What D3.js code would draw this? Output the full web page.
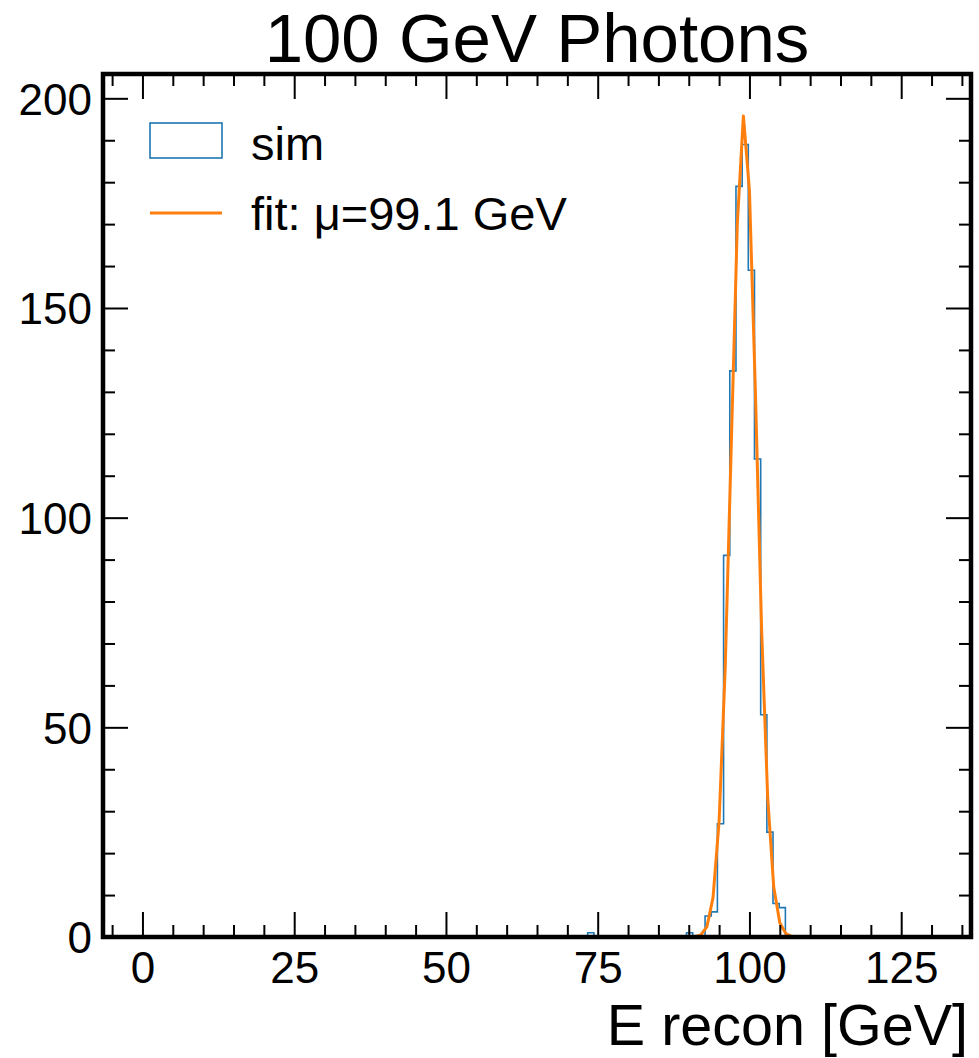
<!DOCTYPE html>
<html>
<head>
<meta charset="utf-8">
<script src="https://cdn.jsdelivr.net/npm/d3@7"></script>
<style>
  body { margin: 0; background: #fff; }
  svg { font-family: "Liberation Sans", Arial, Helvetica, sans-serif; }
  .tick text { font-size: 44px; fill: #000; }
  .tick line { stroke: #000; }
</style>
</head>
<body>
<svg width="979" height="1058"></svg>
<script>
// histogram bin edges (GeV) and counts
var binEdges = [73.35, 74.37, 75.39, 76.40, 77.42, 78.44, 79.46, 80.47, 81.49, 82.51,
                83.53, 84.55, 85.56, 86.58, 87.60, 88.62, 89.63, 90.65, 91.67, 92.69,
                93.71, 94.72, 95.74, 96.76, 97.78, 98.80, 99.81, 100.83, 101.85, 102.87,
                103.88, 104.90, 105.92];
var binCounts = [1, 0, 0, 0, 0, 0, 0, 0, 0, 0, 0, 0, 0, 0, 0, 0,
                 1, 0, 0, 5, 6, 27, 91, 135, 179, 189, 159, 114, 53, 25, 8, 7];

// gaussian fit curve
var fitX = [0, 90, 91, 92, 93, 94, 95, 96, 97, 98, 99, 100, 101, 102, 103, 104, 105, 106, 107, 108, 130];
var fitY = [0, 0, 0.1, 0.5, 2.5, 9.4, 27.6, 63.9, 117, 170, 195.8, 178, 129, 73.5, 33.4, 11.9, 3.4, 0.8, 0.1, 0, 0];

var xMajor = [0, 25, 50, 75, 100, 125];
var xMinor = [-5, 5, 10, 15, 20, 30, 35, 40, 45, 55, 60, 65, 70, 80, 85, 90, 95, 105, 110, 115, 120, 130, 135];
var yMajor = [0, 50, 100, 150, 200];
var yMinor = [10, 20, 30, 40, 60, 70, 80, 90, 110, 120, 130, 140, 160, 170, 180, 190];

var legendLabels = ["sim", "fit: \u03bc=99.1 GeV"];
var titleText = "100 GeV Photons";
var xLabel = "E recon [GeV]";

var svg = d3.select("svg");
var margin = {top: 74, right: 8, bottom: 121, left: 103};
var width = 979 - margin.left - margin.right;
var height = 1058 - margin.top - margin.bottom;

var x = d3.scaleLinear().domain([-6.5, 136.5]).range([0, width]);
var y = d3.scaleLinear().domain([0, 205.8]).range([height, 0]);

var g = svg.append("g")
    .attr("transform", "translate(" + margin.left + "," + margin.top + ")");

g.append("clipPath").attr("id", "plotclip")
  .append("rect").attr("width", width).attr("height", height);

// step outline of the histogram
var steps = [[binEdges[0], 0]];
binCounts.forEach(function(c, i) {
  steps.push([binEdges[i], c]);
  steps.push([binEdges[i + 1], c]);
});
steps.push([binEdges[binEdges.length - 1], 0]);

var line = d3.line()
    .x(function(d) { return x(d[0]); })
    .y(function(d) { return y(d[1]); });

g.append("path")
    .datum(steps)
    .attr("clip-path", "url(#plotclip)")
    .attr("fill", "none")
    .attr("stroke", "#1f77b4")
    .attr("stroke-width", 1.6)
    .attr("d", line);

// fit curve
g.append("path")
    .datum(fitX.map(function(v, i) { return [v, fitY[i]]; }))
    .attr("clip-path", "url(#plotclip)")
    .attr("fill", "none")
    .attr("stroke", "#ff7f0e")
    .attr("stroke-width", 3)
    .attr("stroke-linejoin", "round")
    .attr("d", line);

// axes, ticks pointing inward on all four sides
function tickAxis(axis, vals, len, labels) {
  return axis.tickValues(vals).tickSize(-len)
    .tickFormat(labels ? d3.format("d") : "");
}

g.append("g").attr("transform", "translate(0," + height + ")")
  .call(tickAxis(d3.axisBottom(x), xMajor, 25, true).tickPadding(15));
g.append("g").attr("transform", "translate(0," + height + ")")
  .call(tickAxis(d3.axisBottom(x), xMinor, 12, false));
g.append("g").call(tickAxis(d3.axisTop(x), xMajor, 25, false));
g.append("g").call(tickAxis(d3.axisTop(x), xMinor, 12, false));

g.append("g").call(tickAxis(d3.axisLeft(y), yMajor, 25, true).tickPadding(11));
g.append("g").call(tickAxis(d3.axisLeft(y), yMinor, 12, false));
g.append("g").attr("transform", "translate(" + width + ",0)")
  .call(tickAxis(d3.axisRight(y), yMajor, 25, false));
g.append("g").attr("transform", "translate(" + width + ",0)")
  .call(tickAxis(d3.axisRight(y), yMinor, 12, false));

g.selectAll(".domain").remove();
g.selectAll(".tick line").attr("stroke-width", 2);
g.selectAll(".tick text").attr("font-family", null);
g.selectAll(".tick text").filter(function() { return this.getAttribute("x") !== null && +this.getAttribute("x") < 0; })
  .attr("dy", "0.36em");

// frame
g.append("rect")
    .attr("width", width)
    .attr("height", height)
    .attr("fill", "none")
    .attr("stroke", "#000")
    .attr("stroke-width", 4.5);

// legend
var legend = g.append("g").attr("transform", "translate(47,0)");
legend.append("rect")
    .attr("x", 0).attr("y", 49)
    .attr("width", 72).attr("height", 35)
    .attr("fill", "none")
    .attr("stroke", "#1f77b4")
    .attr("stroke-width", 1.6);
legend.append("line")
    .attr("x1", 0).attr("x2", 72)
    .attr("y1", 139).attr("y2", 139)
    .attr("stroke", "#ff7f0e")
    .attr("stroke-width", 3);
legend.selectAll("text.leg")
    .data(legendLabels)
    .enter().append("text")
    .attr("class", "leg")
    .attr("x", 101)
    .attr("y", function(d, i) { return 69 + i * 70; })
    .attr("dy", "0.36em")
    .style("font-size", "47px")
    .text(function(d) { return d; });

// title
svg.append("text")
    .attr("x", margin.left + width / 2)
    .attr("y", 62)
    .attr("text-anchor", "middle")
    .style("font-size", "69px")
    .text(titleText);

// x label
svg.append("text")
    .attr("x", margin.left + width - 3)
    .attr("y", 1045)
    .attr("text-anchor", "end")
    .style("font-size", "57.5px")
    .text(xLabel);
</script>
</body>
</html>
